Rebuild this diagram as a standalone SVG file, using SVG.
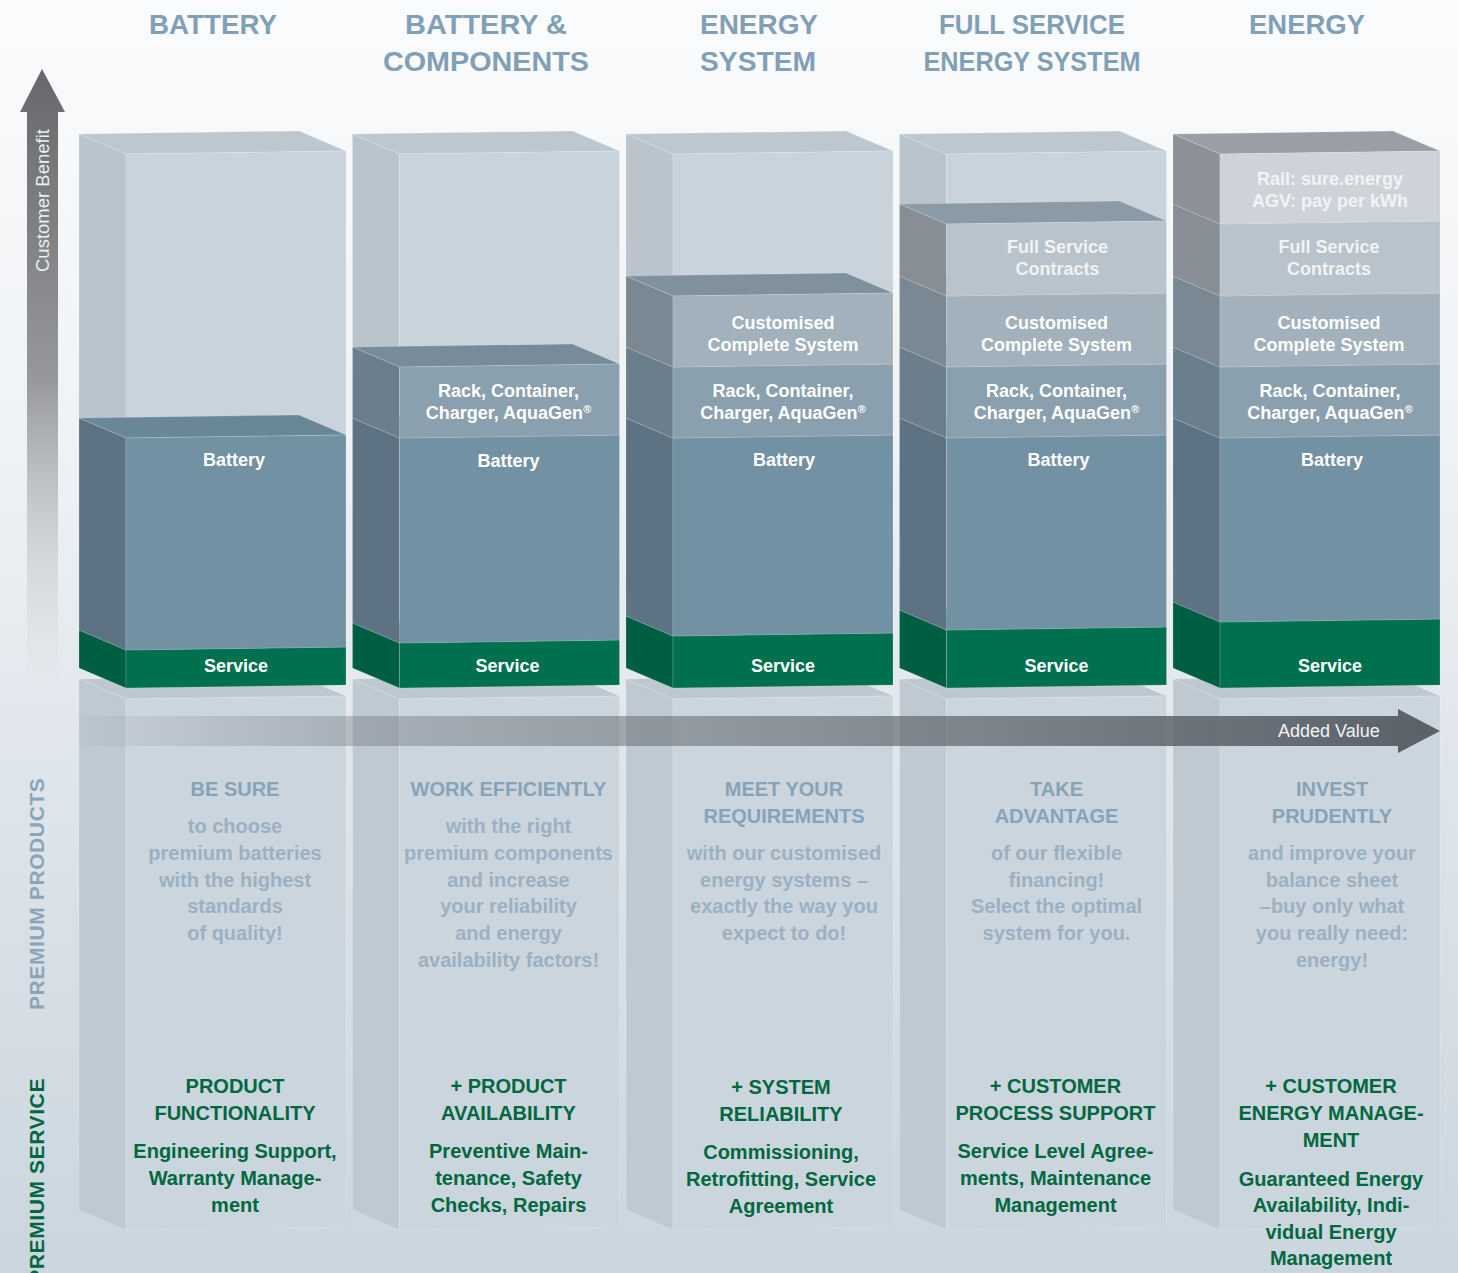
<svg xmlns="http://www.w3.org/2000/svg" width="1458" height="1273" viewBox="0 0 1458 1273">
<defs>
<linearGradient id="bg" x1="0" y1="0" x2="0" y2="1273" gradientUnits="userSpaceOnUse">
<stop offset="0" stop-color="#fafbfc"/><stop offset="0.35" stop-color="#eff2f5"/><stop offset="0.6" stop-color="#dfe6eb"/><stop offset="1" stop-color="#cad5de"/>
</linearGradient>
<linearGradient id="vg" x1="0" y1="69" x2="0" y2="690" gradientUnits="userSpaceOnUse">
<stop offset="0" stop-color="#66686c"/><stop offset="0.5" stop-color="#96989c"/><stop offset="1" stop-color="#e6eaed" stop-opacity="0.3"/>
</linearGradient>
<linearGradient id="hg" x1="79" y1="0" x2="1440" y2="0" gradientUnits="userSpaceOnUse">
<stop offset="0" stop-color="#5b6168" stop-opacity="0.04"/><stop offset="0.2" stop-color="#5b6168" stop-opacity="0.32"/><stop offset="0.55" stop-color="#5b6168" stop-opacity="0.6"/><stop offset="1" stop-color="#5b6168" stop-opacity="1"/>
</linearGradient>
<style>
polygon{stroke:#ffffff;stroke-opacity:.22;stroke-width:.8}
.gf{fill:#c9d3dc}.gs{fill:#b9c4cd}.gt{fill:#bcc7d0}
.bf{fill:#7291a3}.bs{fill:#5d7384}.bt{fill:#6a8797}
.rf{fill:#8aa0ae}.rs{fill:#6b7e8b}.rt{fill:#778b99}
.cf{fill:#a2b1bb}.cs{fill:#7a8893}.ct{fill:#7f919d}
.ff{fill:#b8c3cb}.fs{fill:#878e95}.ft{fill:#8a9aa6}
.af{fill:#ced3d9}.as{fill:#8c9097}.at{fill:#9a9fa6}
.sf{fill:#00704f}.ss{fill:#005e42}.st{fill:#006848}
.lf{fill:#cbd5de}.ls{fill:#bec9d2}.lt{fill:#bdc8d1}
text{font-family:"Liberation Sans",Arial,sans-serif;font-weight:bold;text-anchor:middle}
.hd{font-size:28px;fill:#819fb6}
.lb{font-size:18px;fill:#ffffff}
.lg{font-size:18px;fill:#f1f3f5}
.q1{font-size:20px;fill:#87a3b8}
.q2{font-size:20px;fill:#9bb1c2}
.g{font-size:20px;fill:#00683e}
.reg{font-size:11px}
</style>
</defs>
<rect x="0" y="0" width="1458" height="1273" fill="url(#bg)"/>

<g id="side-labels">
<text transform="translate(44,1010) rotate(-90)" style="text-anchor:start;font-size:21px;fill:#8aa5b9;letter-spacing:0.6px">PREMIUM PRODUCTS</text>
<text transform="translate(44,1078) rotate(-90)" style="text-anchor:end;font-size:21px;fill:#00683e;letter-spacing:0.6px">PREMIUM SERVICE</text>
</g>

<g id="col1">
<text class="hd" x="213" y="34" textLength="128" lengthAdjust="spacingAndGlyphs">BATTERY</text>
<polygon class="lt" points="79,679 299,676 346,696 126,699"/>
<polygon class="ls" points="79,679 126,699 126,1230 79,1210"/>
<polygon class="lf" points="126,699 346,696 346,1227 126,1230"/>
<polygon class="gt" points="79,134 299,131 346,151 126,154"/>
<polygon class="gs" points="79,134 126,154 126,438 79,418"/>
<polygon class="gf" points="126,154 346,151 346,435 126,438"/>
<polygon class="st" points="79,630 299,627 346,647 126,650"/>
<polygon class="ss" points="79,630 126,650 126,688 79,668"/>
<polygon class="sf" points="126,650 346,647 346,685 126,688"/>
<polygon class="bt" points="79,418 299,415 346,435 126,438"/>
<polygon class="bs" points="79,418 126,438 126,650 79,630"/>
<polygon class="bf" points="126,438 346,435 346,647 126,650"/>
<text class="lb" x="234" y="466">Battery</text>
<text class="lb" x="236" y="672">Service</text>
<text class="q1" x="235" y="796">BE SURE</text>
<text class="q2" x="235" y="833">to choose</text>
<text class="q2" x="235" y="860">premium batteries</text>
<text class="q2" x="235" y="887">with the highest</text>
<text class="q2" x="235" y="913">standards</text>
<text class="q2" x="235" y="940">of quality!</text>
<text class="g" x="235" y="1093">PRODUCT</text>
<text class="g" x="235" y="1120">FUNCTIONALITY</text>
<text class="g" x="235" y="1158">Engineering Support,</text>
<text class="g" x="235" y="1185">Warranty Manage-</text>
<text class="g" x="235" y="1212">ment</text>
</g>

<g id="col2" transform="translate(273.5,0)">
<text class="hd" x="212.5" y="34" textLength="162" lengthAdjust="spacingAndGlyphs">BATTERY &amp;</text>
<text class="hd" x="212.5" y="71" textLength="206" lengthAdjust="spacingAndGlyphs">COMPONENTS</text>
<polygon class="lt" points="79,679 299,676 346,696 126,699"/>
<polygon class="ls" points="79,679 126,699 126,1230 79,1210"/>
<polygon class="lf" points="126,699 346,696 346,1227 126,1230"/>
<polygon class="gt" points="79,134 299,131 346,151 126,154"/>
<polygon class="gs" points="79,134 126,154 126,367 79,347"/>
<polygon class="gf" points="126,154 346,151 346,364 126,367"/>
<polygon class="st" points="79,623 299,620 346,640 126,643"/>
<polygon class="ss" points="79,623 126,643 126,688 79,668"/>
<polygon class="sf" points="126,643 346,640 346,685 126,688"/>
<polygon class="bt" points="79,418 299,415 346,435 126,438"/>
<polygon class="bs" points="79,418 126,438 126,643 79,623"/>
<polygon class="bf" points="126,438 346,435 346,640 126,643"/>
<polygon class="rt" points="79,347 299,344 346,364 126,367"/>
<polygon class="rs" points="79,347 126,367 126,438 79,418"/>
<polygon class="rf" points="126,367 346,364 346,435 126,438"/>
<text class="lb" x="235" y="397">Rack, Container,</text>
<text class="lb" x="235" y="419">Charger, AquaGen<tspan class="reg" dy="-6">®</tspan></text>
<text class="lb" x="235" y="467">Battery</text>
<text class="lb" x="234" y="672">Service</text>
<text class="q1" x="235" y="796">WORK EFFICIENTLY</text>
<text class="q2" x="235" y="833">with the right</text>
<text class="q2" x="235" y="860">premium components</text>
<text class="q2" x="235" y="887">and increase</text>
<text class="q2" x="235" y="913">your reliability</text>
<text class="q2" x="235" y="940">and energy</text>
<text class="q2" x="235" y="967">availability factors!</text>
<text class="g" x="235" y="1093">+ PRODUCT</text>
<text class="g" x="235" y="1120">AVAILABILITY</text>
<text class="g" x="235" y="1158">Preventive Main-</text>
<text class="g" x="235" y="1185">tenance, Safety</text>
<text class="g" x="235" y="1212">Checks, Repairs</text>
</g>

<g id="col3" transform="translate(547,0)">
<text class="hd" x="212" y="34" textLength="118" lengthAdjust="spacingAndGlyphs">ENERGY</text>
<text class="hd" x="211" y="71" textLength="116" lengthAdjust="spacingAndGlyphs">SYSTEM</text>
<polygon class="lt" points="79,679 299,676 346,696 126,699"/>
<polygon class="ls" points="79,679 126,699 126,1230 79,1210"/>
<polygon class="lf" points="126,699 346,696 346,1227 126,1230"/>
<polygon class="gt" points="79,134 299,131 346,151 126,154"/>
<polygon class="gs" points="79,134 126,154 126,296 79,276"/>
<polygon class="gf" points="126,154 346,151 346,293 126,296"/>
<polygon class="st" points="79,616 299,613 346,633 126,636"/>
<polygon class="ss" points="79,616 126,636 126,688 79,668"/>
<polygon class="sf" points="126,636 346,633 346,685 126,688"/>
<polygon class="bt" points="79,418 299,415 346,435 126,438"/>
<polygon class="bs" points="79,418 126,438 126,636 79,616"/>
<polygon class="bf" points="126,438 346,435 346,633 126,636"/>
<polygon class="rt" points="79,347 299,344 346,364 126,367"/>
<polygon class="rs" points="79,347 126,367 126,438 79,418"/>
<polygon class="rf" points="126,367 346,364 346,435 126,438"/>
<polygon class="ct" points="79,276 299,273 346,293 126,296"/>
<polygon class="cs" points="79,276 126,296 126,367 79,347"/>
<polygon class="cf" points="126,296 346,293 346,364 126,367"/>
<text class="lb" x="236" y="329">Customised</text>
<text class="lb" x="236" y="351">Complete System</text>
<text class="lb" x="236" y="397">Rack, Container,</text>
<text class="lb" x="236" y="419">Charger, AquaGen<tspan class="reg" dy="-6">®</tspan></text>
<text class="lb" x="237" y="466">Battery</text>
<text class="lb" x="236" y="672">Service</text>
<text class="q1" x="237" y="796">MEET YOUR</text>
<text class="q1" x="237" y="823">REQUIREMENTS</text>
<text class="q2" x="237" y="860">with our customised</text>
<text class="q2" x="237" y="887">energy systems –</text>
<text class="q2" x="237" y="913">exactly the way you</text>
<text class="q2" x="237" y="940">expect to do!</text>
<text class="g" x="234" y="1094">+ SYSTEM</text>
<text class="g" x="234" y="1121">RELIABILITY</text>
<text class="g" x="234" y="1159">Commissioning,</text>
<text class="g" x="234" y="1186">Retrofitting, Service</text>
<text class="g" x="234" y="1213">Agreement</text>
</g>

<g id="col4" transform="translate(820.5,0)">
<text class="hd" x="211.5" y="34" textLength="186" lengthAdjust="spacingAndGlyphs">FULL SERVICE</text>
<text class="hd" x="211.5" y="71" textLength="217" lengthAdjust="spacingAndGlyphs">ENERGY SYSTEM</text>
<polygon class="lt" points="79,679 299,676 346,696 126,699"/>
<polygon class="ls" points="79,679 126,699 126,1230 79,1210"/>
<polygon class="lf" points="126,699 346,696 346,1227 126,1230"/>
<polygon class="gt" points="79,134 299,131 346,151 126,154"/>
<polygon class="gs" points="79,134 126,154 126,224 79,204"/>
<polygon class="gf" points="126,154 346,151 346,221 126,224"/>
<polygon class="st" points="79,610 299,607 346,627 126,630"/>
<polygon class="ss" points="79,610 126,630 126,688 79,668"/>
<polygon class="sf" points="126,630 346,627 346,685 126,688"/>
<polygon class="bt" points="79,418 299,415 346,435 126,438"/>
<polygon class="bs" points="79,418 126,438 126,630 79,610"/>
<polygon class="bf" points="126,438 346,435 346,627 126,630"/>
<polygon class="rt" points="79,347 299,344 346,364 126,367"/>
<polygon class="rs" points="79,347 126,367 126,438 79,418"/>
<polygon class="rf" points="126,367 346,364 346,435 126,438"/>
<polygon class="ct" points="79,276 299,273 346,293 126,296"/>
<polygon class="cs" points="79,276 126,296 126,367 79,347"/>
<polygon class="cf" points="126,296 346,293 346,364 126,367"/>
<polygon class="ft" points="79,204 299,201 346,221 126,224"/>
<polygon class="fs" points="79,204 126,224 126,296 79,276"/>
<polygon class="ff" points="126,224 346,221 346,293 126,296"/>
<text class="lg" x="237" y="253">Full Service</text>
<text class="lg" x="237" y="275">Contracts</text>
<text class="lb" x="236" y="329">Customised</text>
<text class="lb" x="236" y="351">Complete System</text>
<text class="lb" x="236" y="397">Rack, Container,</text>
<text class="lb" x="236" y="419">Charger, AquaGen<tspan class="reg" dy="-6">®</tspan></text>
<text class="lb" x="238" y="466">Battery</text>
<text class="lb" x="236" y="672">Service</text>
<text class="q1" x="236" y="796">TAKE</text>
<text class="q1" x="236" y="823">ADVANTAGE</text>
<text class="q2" x="236" y="860">of our flexible</text>
<text class="q2" x="236" y="887">financing!</text>
<text class="q2" x="236" y="913">Select the optimal</text>
<text class="q2" x="236" y="940">system for you.</text>
<text class="g" x="235" y="1093">+ CUSTOMER</text>
<text class="g" x="235" y="1120">PROCESS SUPPORT</text>
<text class="g" x="235" y="1158">Service Level Agree-</text>
<text class="g" x="235" y="1185">ments, Maintenance</text>
<text class="g" x="235" y="1212">Management</text>
</g>

<g id="col5" transform="translate(1094,0)">
<text class="hd" x="213" y="34" textLength="116" lengthAdjust="spacingAndGlyphs">ENERGY</text>
<polygon class="lt" points="79,679 299,676 346,696 126,699"/>
<polygon class="ls" points="79,679 126,699 126,1230 79,1210"/>
<polygon class="lf" points="126,699 346,696 346,1227 126,1230"/>
<polygon class="st" points="79,602 299,599 346,619 126,622"/>
<polygon class="ss" points="79,602 126,622 126,688 79,668"/>
<polygon class="sf" points="126,622 346,619 346,685 126,688"/>
<polygon class="bt" points="79,418 299,415 346,435 126,438"/>
<polygon class="bs" points="79,418 126,438 126,622 79,602"/>
<polygon class="bf" points="126,438 346,435 346,619 126,622"/>
<polygon class="rt" points="79,347 299,344 346,364 126,367"/>
<polygon class="rs" points="79,347 126,367 126,438 79,418"/>
<polygon class="rf" points="126,367 346,364 346,435 126,438"/>
<polygon class="ct" points="79,276 299,273 346,293 126,296"/>
<polygon class="cs" points="79,276 126,296 126,367 79,347"/>
<polygon class="cf" points="126,296 346,293 346,364 126,367"/>
<polygon class="ft" points="79,204 299,201 346,221 126,224"/>
<polygon class="fs" points="79,204 126,224 126,296 79,276"/>
<polygon class="ff" points="126,224 346,221 346,293 126,296"/>
<polygon class="at" points="79,134 299,131 346,151 126,154"/>
<polygon class="as" points="79,134 126,154 126,224 79,204"/>
<polygon class="af" points="126,154 346,151 346,221 126,224"/>
<text class="lg" x="236" y="185">Rail: sure.energy</text>
<text class="lg" x="236" y="207">AGV: pay per kWh</text>
<text class="lg" x="235" y="253">Full Service</text>
<text class="lg" x="235" y="275">Contracts</text>
<text class="lb" x="235" y="329">Customised</text>
<text class="lb" x="235" y="351">Complete System</text>
<text class="lb" x="236" y="397">Rack, Container,</text>
<text class="lb" x="236" y="419">Charger, AquaGen<tspan class="reg" dy="-6">®</tspan></text>
<text class="lb" x="238" y="466">Battery</text>
<text class="lb" x="236" y="672">Service</text>
<text class="q1" x="238" y="796">INVEST</text>
<text class="q1" x="238" y="823">PRUDENTLY</text>
<text class="q2" x="238" y="860">and improve your</text>
<text class="q2" x="238" y="887">balance sheet</text>
<text class="q2" x="238" y="913">–buy only what</text>
<text class="q2" x="238" y="940">you really need:</text>
<text class="q2" x="238" y="967">energy!</text>
<text class="g" x="237" y="1093">+ CUSTOMER</text>
<text class="g" x="237" y="1120">ENERGY MANAGE-</text>
<text class="g" x="237" y="1147">MENT</text>
<text class="g" x="237" y="1186">Guaranteed Energy</text>
<text class="g" x="237" y="1212">Availability, Indi-</text>
<text class="g" x="237" y="1239">vidual Energy</text>
<text class="g" x="237" y="1265">Management</text>
</g>

<g id="connectors">
<polygon points="27,690 27,112 20,112 42,69 65,112 58,112 58,690" fill="url(#vg)" style="stroke:none"/>
<text transform="translate(49,272) rotate(-90)" style="text-anchor:start;font-weight:normal;font-size:18.5px;fill:#eceef0">Customer Benefit</text>
<polygon points="79,716 1398,716 1398,709 1440,731 1398,753 1398,746 79,746" fill="url(#hg)" style="stroke:none"/>
<text x="1278" y="737" style="text-anchor:start;font-weight:normal;font-size:18px;fill:#f2f3f4">Added Value</text>
</g>
</svg>
